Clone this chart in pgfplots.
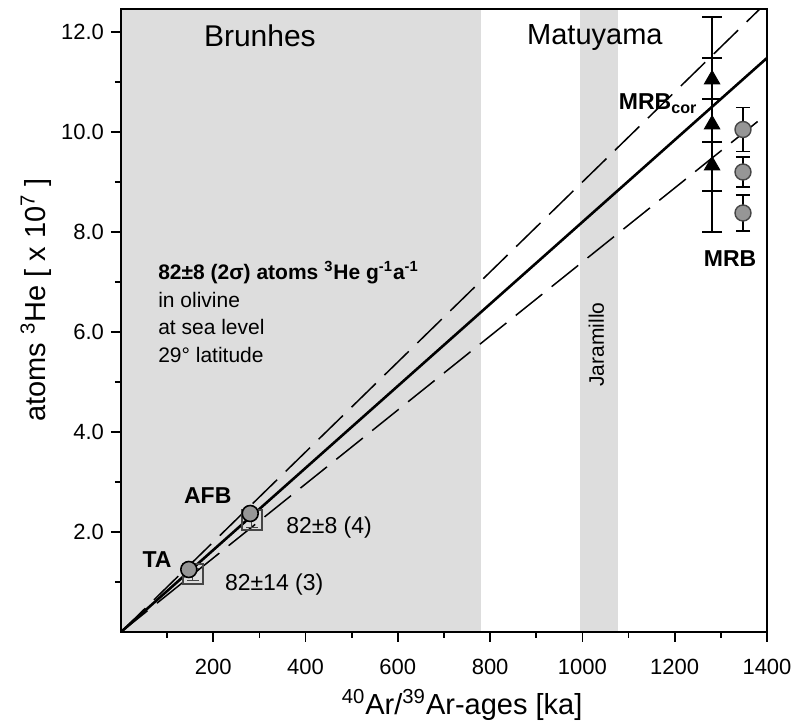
\documentclass[border=0pt]{standalone}
\usepackage{pgfplots}
\pgfplotsset{compat=1.18}
\usepackage{fontspec}
\setmainfont{Liberation Sans}
\definecolor{shade}{RGB}{221,221,221}
\definecolor{ptgray}{RGB}{150,150,150}
\definecolor{edgegray}{RGB}{70,70,70}

\begin{document}
\begin{tikzpicture}
\begin{axis}[
  scale only axis, width=323pt, height=311.5pt,
  xmin=0, xmax=1400, ymin=0, ymax=12.46,
  axis on top, clip mode=individual,
  axis line style={line width=0.9pt},
  tick align=outside, xtick pos=bottom, ytick pos=left,
  xtick={200,400,...,1400}, minor xtick={100,300,...,1300},
  ytick={2,4,...,12}, minor ytick={1,3,...,11},
  major tick length=5pt, minor tick length=3pt,
  every tick/.style={line width=0.8pt, black},
  /pgf/number format/assume math mode=true,
  ticklabel style={font=\fontsize{11}{12}\selectfont},
  xticklabel style={/pgf/number format/1000 sep={}, yshift=-5pt},
  yticklabel style={/pgf/number format/.cd, fixed, fixed zerofill, precision=1},
  xlabel={\textsuperscript{40}Ar/\textsuperscript{39}Ar-ages [ka]},
  ylabel={atoms \textsuperscript{3}He [ x 10\textsuperscript{7} ]},
  label style={font=\fontsize{14.5}{16}\selectfont},
  xlabel style={at={(axis description cs:0.528,-0.117)}, anchor=center},
  ylabel style={at={(axis description cs:-0.132,0.533)}, anchor=center},
]
% Brunhes and Jaramillo shading
\addplot[fill=shade, draw=none] coordinates {(0,12.46) (780,12.46)} \closedcycle;
\addplot[fill=shade, draw=none] coordinates {(995,12.46) (1077,12.46)} \closedcycle;

% production rate lines
\addplot[black, line width=1.3pt] coordinates {(0,0) (1400,11.48)};
\addplot[black, line width=0.75pt, dash pattern=on 17pt off 6pt] coordinates {(0,0) (1400,12.6)};
\addplot[black, line width=0.75pt, dash pattern=on 17pt off 6pt] coordinates {(0,0) (1400,10.36)};

% TA and AFB squares
\addplot[only marks, mark=square, mark size=5pt, mark options={draw=edgegray, line width=1pt},
  error bars/.cd, y dir=both, y explicit, error bar style={line width=0.6pt, edgegray},
  error mark options={mark size=3pt, line width=0.6pt, rotate=90}]
  coordinates {(155,1.15) +- (0,0.12) (283,2.24) +- (0,0.15)};
% TA and AFB circles
\addplot[only marks, mark=*, mark size=4pt, mark options={fill=ptgray, draw=black, line width=0.8pt}]
  coordinates {(147,1.25) (280,2.37)};

% MRB_cor triangles
\addplot[only marks, mark=triangle*, mark size=4.5pt, mark options={fill=black, draw=black},
  error bars/.cd, y dir=both, y explicit, error bar style={line width=0.7pt, black},
  error mark options={mark size=5pt, line width=0.7pt, rotate=90}]
  coordinates {(1281,11.05) +- (0,1.25) (1281,10.15) +- (0,1.33) (1281,9.33) +- (0,1.33)};

% MRB circles
\addplot[only marks, mark=*, mark size=4pt, mark options={fill=ptgray, draw=edgegray, line width=0.7pt},
  error bars/.cd, y dir=both, y explicit, error bar style={line width=0.7pt, black},
  error mark options={mark size=3.5pt, line width=0.7pt, rotate=90}]
  coordinates {(1348,10.05) +- (0,0.44) (1348,9.2) +- (0,0.3) (1348,8.38) +- (0,0.36)};

% annotations
\node[font=\fontsize{15}{17}\selectfont] at (axis cs:301,11.93) {Brunhes};
\node[font=\fontsize{14.5}{17}\selectfont] at (axis cs:1027,11.88) {Matuyama};
\node[rotate=90, font=\fontsize{10.5}{12}\selectfont] at (axis cs:1030,5.75) {Jaramillo};
\node[anchor=north west, align=left, inner sep=0pt, font=\fontsize{10.5}{13.75}\selectfont]
  at (axis cs:80,7.42) {\textbf{82±8 (2σ) atoms \textsuperscript{3}He g\textsuperscript{-1}a\textsuperscript{-1}}\\in olivine\\at sea level\\29° latitude};
\node[font=\bfseries\fontsize{11.5}{13}\selectfont] at (axis cs:78,1.45) {TA};
\node[font=\bfseries\fontsize{11.5}{13}\selectfont] at (axis cs:188,2.73) {AFB};
\node[font=\fontsize{11.5}{13}\selectfont] at (axis cs:451,2.09) {82±8 (4)};
\node[font=\fontsize{11.5}{13}\selectfont] at (axis cs:332,0.95) {82±14 (3)};
\node[anchor=base east, inner sep=0pt, font=\bfseries\fontsize{11.5}{13}\selectfont] at (axis cs:1250,10.45) {MRB\textsubscript{cor}};
\node[font=\bfseries\fontsize{11.5}{13}\selectfont] at (axis cs:1320,7.47) {MRB};
\end{axis}
\path (-60.5pt,-46.5pt) rectangle (339.5pt,316pt);
\end{tikzpicture}
\end{document}
